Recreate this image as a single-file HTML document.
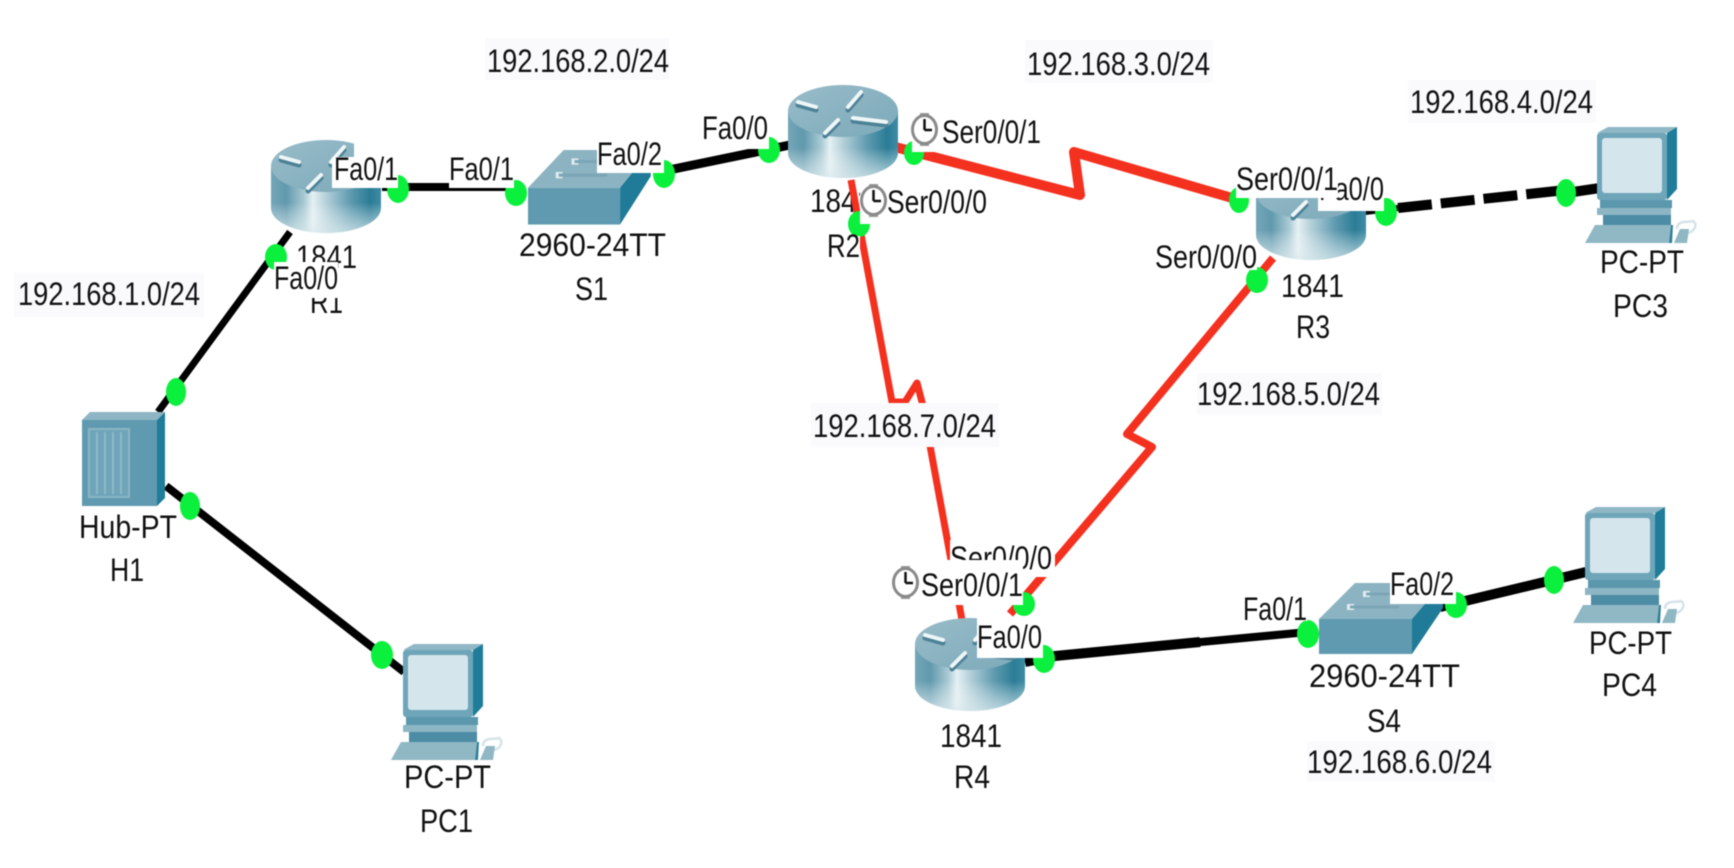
<!DOCTYPE html>
<html lang="en">
<head>
<meta charset="utf-8">
<title>Network topology</title>
<style>
html,body{margin:0;padding:0;background:#fff;width:1734px;height:868px;overflow:hidden}
svg{display:block;filter:blur(.5px)}
text{font-family:"Liberation Sans",sans-serif;font-size:32px;fill:#111}
</style>
</head>
<body>
<svg width="1734" height="868" viewBox="0 0 1734 868" xmlns="http://www.w3.org/2000/svg">
<defs>
<linearGradient id="side" x1="0" x2="1" y1="0" y2="0">
<stop offset="0" stop-color="#74a6b8"/><stop offset=".14" stop-color="#6199ad"/>
<stop offset=".3" stop-color="#a8c9d3"/><stop offset=".38" stop-color="#e4f0f3"/>
<stop offset=".5" stop-color="#b4d0d9"/><stop offset=".72" stop-color="#5f9bb0"/>
<stop offset=".9" stop-color="#2b7c96"/><stop offset="1" stop-color="#3f8ca4"/>
</linearGradient>
<linearGradient id="fade" x1="0" x2="0" y1="0" y2="1">
<stop offset=".55" stop-color="#fff" stop-opacity="0"/><stop offset="1" stop-color="#dcebef" stop-opacity=".75"/>
</linearGradient>
<linearGradient id="top" x1="0" x2="1" y1="0" y2="1">
<stop offset="0" stop-color="#98bcc9"/><stop offset="1" stop-color="#7ca9b9"/>
</linearGradient>
<g id="router">
<path d="M0,26V68A55,25 0 0 0 110,68V26Z" fill="url(#side)"/>
<path d="M0,26V68A55,25 0 0 0 110,68V26Z" fill="url(#fade)"/>
<ellipse cx="55" cy="26" rx="55" ry="26" fill="url(#top)"/>
<g fill="none" stroke="#4d8296" stroke-width="5" stroke-linecap="round">
<path d="M10,20L28,25M60,25L73,10M65,36L98,40M37,51L50,38"/>
</g>
<g fill="none" stroke="#eef6f8" stroke-width="4" stroke-linecap="round">
<path d="M10,17L28,22M60,22L73,7M65,33L98,37M37,48L50,35"/>
</g>
</g>
<g id="switch">
<polygon points="0,36 36,0 124,0 93,36" fill="#8cb3c1"/>
<polygon points="93,36 124,0 124,25 93,71" fill="#1f7b97"/>
<rect x="0" y="36" width="93" height="35" fill="#5f9ab0"/>
<rect x="44" y="8" width="7" height="6" fill="#dfecf0"/>
<rect x="28" y="21" width="7" height="6" fill="#dfecf0"/>
<path d="M31,24H80M47,11H98" stroke="#7ba6b6" stroke-width="3"/>
</g>
<g id="pc">
<polygon points="12,6 23,0 92,0 82,6" fill="#8fb7c5"/>
<polygon points="82,6 92,0 92,62 82,73" fill="#1f7d99"/>
<rect x="12" y="6" width="70" height="67" rx="3" fill="#6ea5b8"/>
<rect x="17" y="11" width="60" height="55" rx="3" fill="#d5e5ec"/>
<rect x="15" y="73" width="72" height="8" fill="#5b97ad"/>
<rect x="12" y="81" width="74" height="7" fill="#8db6c4"/>
<rect x="18" y="88" width="68" height="10" fill="#4c8ca4"/>
<polygon points="0,116 10,98 86,98 84,116" fill="#8fb7c4"/>
<polygon points="84,116 86,98 88,98 87,116" fill="#2f7f98"/>
<path d="M92,102C92,92 104,96 108,94C114,98 108,106 102,106" fill="none" stroke="#d5e3e8" stroke-width="2.5"/>
<polygon points="89,116 95,102 104,102 102,116" fill="#8fb7c4"/>
</g>
<g id="clock">
<rect x="9" y="0" width="9" height="33" fill="#9a9a9a"/>
<ellipse cx="13.5" cy="16.5" rx="12" ry="14" fill="#fff" stroke="#8a8a8a" stroke-width="3"/>
<path d="M13.5,17V6M13.5,17H21" stroke="#111" stroke-width="2.5" fill="none"/>
</g>
</defs>

<!-- IP label backgrounds -->
<g fill="#fafafd">
<rect x="485" y="38" width="184" height="42"/>
<rect x="14" y="273" width="190" height="44"/>
<rect x="1025" y="40" width="188" height="43"/>
<rect x="1408" y="80" width="188" height="43"/>
<rect x="1197" y="373" width="185" height="42"/>
<rect x="1307" y="741" width="188" height="41"/>
</g>

<!-- device text under connectors -->
<text x="810" y="212" textLength="62" lengthAdjust="spacingAndGlyphs">1841</text>

<!-- connectors -->
<g fill="none" stroke-linejoin="round" stroke-linecap="butt">
<path d="M290,232L158,412" stroke="#000" stroke-width="7"/>
<path d="M166,486L404,672" stroke="#000" stroke-width="8"/>
<path d="M382,187L515,187" stroke="#000" stroke-width="8"/>
<path d="M664,171L790,145" stroke="#000" stroke-width="9"/>
<path d="M895,147L1080,195L1074,152L1239,200" stroke="#f4301f" stroke-width="10"/>
<path d="M851,180L892,402L905,402L917,383L922,402L962,620" stroke="#f4301f" stroke-width="7"/>
<path d="M1273,258L1127,434L1152,447L1010,614" stroke="#f4301f" stroke-width="8"/>
<path d="M1025,662L1055,656L1200,642" stroke="#000" stroke-width="10"/>
<path d="M1190,643L1308,632" stroke="#000" stroke-width="8"/>
<path d="M1440,607L1586,572" stroke="#000" stroke-width="10"/>
<path d="M1365,212L1398,208" stroke="#000" stroke-width="6"/>
<path d="M1398,208L1566,190" stroke="#000" stroke-width="10" stroke-dasharray="34 9"/>
<path d="M1566,193L1600,188" stroke="#000" stroke-width="10"/>
</g>

<!-- 192.168.7.0/24 sits over red line -->
<rect x="811" y="403" width="188" height="44" fill="#fafafd"/>

<!-- devices -->
<use href="#router" x="271" y="140"/>
<use href="#router" x="788" y="85"/>
<use href="#router" x="1256" y="167"/>
<use href="#router" x="915" y="618"/>
<g transform="translate(528,150) scale(.99,1.05)"><use href="#switch"/></g>
<use href="#switch" x="1319" y="583"/>
<use href="#pc" x="391" y="644"/>
<use href="#pc" x="1585" y="127"/>
<use href="#pc" x="1573" y="507"/>

<!-- hub -->
<polygon points="82,420 90,412 165,412 157,420" fill="#8db5c3"/>
<polygon points="157,420 165,412 165,498 157,506" fill="#1f7d99"/>
<rect x="82" y="420" width="75" height="86" fill="#5f9ab0"/>
<rect x="89" y="429" width="40" height="68" fill="#6fa5b9" stroke="#8ab5c5" stroke-width="2"/>
<path d="M97,432V494M105,432V494M113,432V494M121,432V494" stroke="#8fb8c7" stroke-width="2"/>

<!-- link lights -->
<g fill="#0af03c">
<ellipse cx="276" cy="257" rx="11" ry="13"/>
<ellipse cx="176" cy="392" rx="10" ry="14"/>
<ellipse cx="190" cy="506" rx="10" ry="14"/>
<ellipse cx="382" cy="655" rx="11" ry="14"/>
<ellipse cx="398" cy="189" rx="11" ry="14"/>
<ellipse cx="516" cy="193" rx="11" ry="13"/>
<ellipse cx="664" cy="174" rx="11" ry="14"/>
<ellipse cx="769" cy="150" rx="11" ry="13"/>
<ellipse cx="914" cy="153" rx="10" ry="12"/>
<ellipse cx="859" cy="224" rx="11" ry="13"/>
<ellipse cx="1239" cy="200" rx="10" ry="13"/>
<ellipse cx="1257" cy="280" rx="11" ry="13"/>
<ellipse cx="1386" cy="212" rx="11" ry="14"/>
<ellipse cx="1566" cy="193" rx="10" ry="14"/>
<ellipse cx="1024" cy="604" rx="11" ry="12"/>
<ellipse cx="1044" cy="659" rx="11" ry="14"/>
<ellipse cx="1308" cy="634" rx="11" ry="14"/>
<ellipse cx="1456" cy="605" rx="11" ry="13"/>
<ellipse cx="1554" cy="580" rx="10" ry="14"/>
</g>

<!-- port labels with white backing -->
<g fill="#fff">
<rect x="354" y="135" width="46" height="22"/>
<rect x="332" y="157" width="66" height="31"/>
<rect x="449" y="157" width="65" height="31"/>
<rect x="597" y="142" width="67" height="31"/>
<rect x="702" y="115" width="67" height="34"/>
<rect x="912" y="112" width="131" height="40"/>
<rect x="860" y="183" width="130" height="41"/>
<rect x="820" y="236" width="40" height="24"/>
<rect x="296" y="238" width="42" height="11"/>
</g>
<text x="296" y="268" textLength="61" lengthAdjust="spacingAndGlyphs">1841</text>
<text x="310" y="313" textLength="33" lengthAdjust="spacingAndGlyphs">R1</text>
<rect x="274" y="262" width="64" height="36" fill="#fff"/>

<text x="334" y="180" textLength="64" lengthAdjust="spacingAndGlyphs">Fa0/1</text>
<text x="449" y="180" textLength="65" lengthAdjust="spacingAndGlyphs">Fa0/1</text>
<text x="597" y="165" textLength="65" lengthAdjust="spacingAndGlyphs">Fa0/2</text>
<text x="702" y="139" textLength="66" lengthAdjust="spacingAndGlyphs">Fa0/0</text>
<text x="274" y="289" textLength="64" lengthAdjust="spacingAndGlyphs">Fa0/0</text>
<text x="519" y="256" textLength="147" lengthAdjust="spacingAndGlyphs">2960-24TT</text>
<text x="575" y="300" textLength="33" lengthAdjust="spacingAndGlyphs">S1</text>
<text x="827" y="257" textLength="33" lengthAdjust="spacingAndGlyphs">R2</text>

<use href="#clock" x="911" y="113"/>
<text x="942" y="143" textLength="99" lengthAdjust="spacingAndGlyphs">Ser0/0/1</text>
<use href="#clock" x="860" y="184"/>
<text x="887" y="213" textLength="100" lengthAdjust="spacingAndGlyphs">Ser0/0/0</text>

<!-- R3 labels -->
<rect x="1318" y="160" width="66" height="51" fill="#fff"/>
<text x="1319" y="200" textLength="65" lengthAdjust="spacingAndGlyphs">Fa0/0</text>
<rect x="1236" y="160" width="102" height="38" fill="#fff"/>
<text x="1236" y="190" textLength="102" lengthAdjust="spacingAndGlyphs">Ser0/0/1</text>
<rect x="1155" y="245" width="102" height="25" fill="#fff"/>
<text x="1155" y="268" textLength="102" lengthAdjust="spacingAndGlyphs">Ser0/0/0</text>
<text x="1281" y="297" textLength="63" lengthAdjust="spacingAndGlyphs">1841</text>
<text x="1296" y="338" textLength="34" lengthAdjust="spacingAndGlyphs">R3</text>
<text x="1600" y="273" textLength="84" lengthAdjust="spacingAndGlyphs">PC-PT</text>
<text x="1613" y="317" textLength="55" lengthAdjust="spacingAndGlyphs">PC3</text>

<!-- R4 labels -->
<rect x="950" y="540" width="105" height="37" fill="#fff"/>
<text x="950" y="569" textLength="102" lengthAdjust="spacingAndGlyphs">Ser0/0/0</text>
<rect x="892" y="560" width="131" height="45" fill="#fff"/>
<use href="#clock" x="892" y="566"/>
<text x="921" y="596" textLength="102" lengthAdjust="spacingAndGlyphs">Ser0/0/1</text>
<rect x="977" y="618" width="66" height="40" fill="#fff"/>
<text x="977" y="648" textLength="65" lengthAdjust="spacingAndGlyphs">Fa0/0</text>
<text x="940" y="747" textLength="62" lengthAdjust="spacingAndGlyphs">1841</text>
<text x="954" y="788" textLength="36" lengthAdjust="spacingAndGlyphs">R4</text>
<rect x="1243" y="597" width="64" height="24" fill="#fff"/>
<text x="1243" y="620" textLength="64" lengthAdjust="spacingAndGlyphs">Fa0/1</text>
<rect x="1390" y="571" width="66" height="33" fill="#fff"/>
<text x="1390" y="595" textLength="64" lengthAdjust="spacingAndGlyphs">Fa0/2</text>
<text x="1309" y="687" textLength="151" lengthAdjust="spacingAndGlyphs">2960-24TT</text>
<text x="1367" y="732" textLength="34" lengthAdjust="spacingAndGlyphs">S4</text>
<text x="1589" y="654" textLength="83" lengthAdjust="spacingAndGlyphs">PC-PT</text>
<text x="1602" y="696" textLength="55" lengthAdjust="spacingAndGlyphs">PC4</text>

<text x="79" y="538" textLength="98" lengthAdjust="spacingAndGlyphs">Hub-PT</text>
<text x="110" y="581" textLength="34" lengthAdjust="spacingAndGlyphs">H1</text>
<text x="404" y="788" textLength="87" lengthAdjust="spacingAndGlyphs">PC-PT</text>
<text x="420" y="832" textLength="53" lengthAdjust="spacingAndGlyphs">PC1</text>

<!-- network labels -->
<text x="487" y="72" textLength="182" lengthAdjust="spacingAndGlyphs">192.168.2.0/24</text>
<text x="18" y="305" textLength="182" lengthAdjust="spacingAndGlyphs">192.168.1.0/24</text>
<text x="1027" y="75" textLength="183" lengthAdjust="spacingAndGlyphs">192.168.3.0/24</text>
<text x="1410" y="113" textLength="183" lengthAdjust="spacingAndGlyphs">192.168.4.0/24</text>
<text x="1197" y="405" textLength="183" lengthAdjust="spacingAndGlyphs">192.168.5.0/24</text>
<text x="813" y="437" textLength="183" lengthAdjust="spacingAndGlyphs">192.168.7.0/24</text>
<text x="1307" y="773" textLength="185" lengthAdjust="spacingAndGlyphs">192.168.6.0/24</text>
</svg>
</body>
</html>
